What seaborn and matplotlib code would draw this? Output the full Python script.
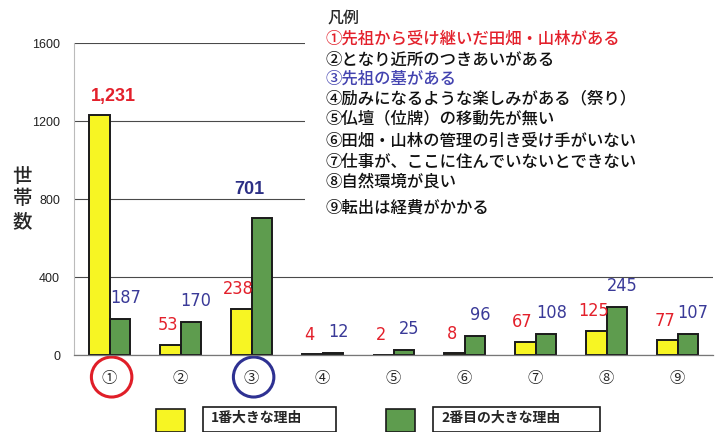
import pandas as pd
import matplotlib
matplotlib.use("Agg")
import matplotlib.pyplot as plt
import seaborn as sns
from matplotlib.patches import Ellipse, Rectangle

# data
categories = ["①", "②", "③", "④", "⑤", "⑥", "⑦", "⑧", "⑨"]
first_reason = [1231, 53, 238, 4, 2, 8, 67, 125, 77]
second_reason = [187, 170, 701, 12, 25, 96, 108, 245, 107]
series_names = ["1番大きな理由", "2番目の大きな理由"]
legend_title = "凡例"
legend_items = [
    "①先祖から受け継いだ田畑・山林がある",
    "②となり近所のつきあいがある",
    "③先祖の墓がある",
    "④励みになるような楽しみがある（祭り）",
    "⑤仏壇（位牌）の移動先が無い",
    "⑥田畑・山林の管理の引き受け手がいない",
    "⑦仕事が、ここに住んでいないとできない",
    "⑧自然環境が良い",
    "⑨転出は経費がかかる",
]
y_label = "世\n帯\n数"

YELLOW = "#F7F523"
GREEN = "#5E9C4E"
RED = "#E3202B"
BLUE = "#3A3A98"
NAVY = "#2C2F85"

df = pd.DataFrame({
    "cat": categories * 2,
    "val": first_reason + second_reason,
    "series": [series_names[0]] * 9 + [series_names[1]] * 9,
})

sns.set_style("white")
plt.rcParams["font.family"] = ["Noto Sans CJK JP", "DejaVu Sans"]

fig = plt.figure(figsize=(7.15, 4.32), dpi=100)
ax = fig.add_axes([74 / 715, 1 - 355 / 432, 639 / 715, 312 / 432])

sns.barplot(data=df, x="cat", y="val", hue="series", order=categories,
            hue_order=series_names, palette=[YELLOW, GREEN], width=0.57,
            gap=0, edgecolor="#1a1a1a", linewidth=1.4, legend=False,
            saturation=1, ax=ax)

ax.set_xlim(-0.5, 8.5)
ax.set_ylim(0, 1600)
ax.set_yticks([0, 400, 800, 1200, 1600])
ax.set_axisbelow(True)
ax.yaxis.grid(True, color="#4a4a4a", linewidth=0.8)
ax.xaxis.grid(False)
for s in ["top", "right"]:
    ax.spines[s].set_visible(False)
ax.spines["left"].set_color("#bbbbbb")
ax.spines["left"].set_linewidth(0.8)
ax.spines["bottom"].set_color("#777777")
ax.spines["bottom"].set_linewidth(0.9)
ax.set_xlabel("")
ax.set_ylabel("")
ax.tick_params(axis="y", length=0, pad=10, labelsize=9, labelcolor="#222222")
ax.tick_params(axis="x", which="major", length=0, pad=11, labelsize=11)
ax.set_xticks([i + 0.5 for i in range(8)], minor=True)
ax.tick_params(axis="x", which="minor", direction="in", length=4,
               color="#888888", width=0.8)
for lbl in ax.get_yticklabels():
    lbl.set_family(["Liberation Sans", "DejaVu Sans"])

# white panel behind the legend text
ax.add_patch(Rectangle((2.76, 660), 6, 1200, facecolor="white",
                       edgecolor="none", zorder=1.5, clip_on=False))

# value labels
bold_font = ["Liberation Sans", "DejaVu Sans"]
num_kw = dict(textcoords="offset points", ha="center", va="center",
              fontsize=13, family="DejaVu Sans", fontstretch="condensed", zorder=3)
for i, (a, b) in enumerate(zip(first_reason, second_reason)):
    xa, xb = i - 0.143, i + 0.143
    if i == 0:
        ax.annotate(f"{a:,}", (i + 0.05, a), xytext=(0, 13), textcoords="offset points",
                    ha="center", va="center", color=RED, fontsize=13,
                    fontweight="bold", family=bold_font, zorder=3)
    else:
        ax.annotate(f"{a:,}", (xa, a), xytext=(-2, 14), color=RED, **num_kw)
    if i == 2:
        ax.annotate(f"{b:,}", (i - 0.03, b), xytext=(0, 21), textcoords="offset points",
                    ha="center", va="center", color=NAVY, fontsize=13,
                    fontweight="bold", family=bold_font, zorder=3)
    else:
        ax.annotate(f"{b:,}", (xb, b), xytext=(4, 15), color=BLUE, **num_kw)

# circles around ① and ③
for idx, col in [(0, "#E01E28"), (2, "#2E3192")]:
    ax.add_patch(Ellipse((idx + 0.03, -113), 0.57, 205, fill=False,
                         edgecolor=col, linewidth=2.2, clip_on=False))

# y label
fig.text(22 / 715, 1 - 199 / 432, y_label, ha="center", va="center",
         fontsize=14, linespacing=1.25, fontweight="medium")

# legend text (upper right)
fig.text(328 / 715, 1 - 18 / 432, legend_title, ha="left", va="center",
         fontsize=11.5, fontweight="medium")
y_pos = [39, 60, 79, 99, 119, 141, 162, 182, 208]
colors = [RED, "#111111", "#4343B0"] + ["#111111"] * 6
for txt, yp, c in zip(legend_items, y_pos, colors):
    fig.text(326 / 715, 1 - yp / 432, txt, ha="left", va="center",
             fontsize=11.8, color=c, fontweight="medium")

# bottom legend
for (px, bx, bw), name, col in zip([(156, 203, 133), (386, 433, 167)],
                                   series_names, [YELLOW, GREEN]):
    fig.patches.append(Rectangle((px / 715, 0), 29 / 715, 23 / 432,
                                 transform=fig.transFigure, facecolor=col,
                                 edgecolor="#1a1a1a", linewidth=1.2))
    fig.patches.append(Rectangle((bx / 715, 0), bw / 715, 25 / 432,
                                 transform=fig.transFigure, facecolor="white",
                                 edgecolor="#1a1a1a", linewidth=1.2))
    fig.text((bx + 8) / 715, 14 / 432, name, ha="left", va="center",
             fontsize=10, fontweight="bold")

fig.savefig("out.png", dpi=100)
